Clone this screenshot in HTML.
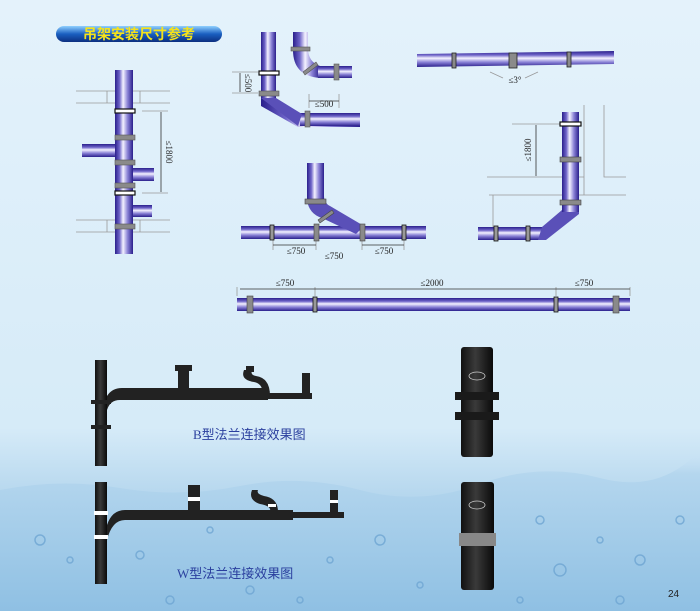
<!DOCTYPE html>
<html><head><meta charset="utf-8"><style>
html,body{margin:0;padding:0;width:700px;height:611px;overflow:hidden;background:#e2f1fb}
svg{display:block}
text{font-family:"Liberation Serif",serif;}
</style></head><body>
<svg width="700" height="611" viewBox="0 0 700 611" xmlns="http://www.w3.org/2000/svg">
<defs>
<linearGradient id="bg" x1="0" y1="0" x2="0" y2="1">
<stop offset="0" stop-color="#e4f2fb"/><stop offset="0.7" stop-color="#d6ebf8"/><stop offset="0.8" stop-color="#b9d9ef"/><stop offset="1" stop-color="#7fb5dc"/></linearGradient>
<linearGradient id="ph" x1="0" y1="0" x2="0" y2="1">
<stop offset="0" stop-color="#2a1f8c"/><stop offset="0.25" stop-color="#6e64c8"/><stop offset="0.45" stop-color="#f4f2ff"/><stop offset="0.7" stop-color="#8a82d6"/><stop offset="1" stop-color="#2a1f8c"/></linearGradient>
<linearGradient id="pv" x1="0" y1="0" x2="1" y2="0">
<stop offset="0" stop-color="#2a1f8c"/><stop offset="0.25" stop-color="#6e64c8"/><stop offset="0.45" stop-color="#f4f2ff"/><stop offset="0.7" stop-color="#8a82d6"/><stop offset="1" stop-color="#2a1f8c"/></linearGradient>
<linearGradient id="pill" x1="0" y1="0" x2="0" y2="1">
<stop offset="0" stop-color="#8fd0ff"/><stop offset="0.5" stop-color="#1a5fc0"/><stop offset="1" stop-color="#0c2f80"/></linearGradient>
<linearGradient id="blk" x1="0" y1="0" x2="1" y2="0">
<stop offset="0" stop-color="#111"/><stop offset="0.45" stop-color="#3a3a3a"/><stop offset="1" stop-color="#0a0a0a"/></linearGradient>
<linearGradient id="water" x1="0" y1="0" x2="0" y2="1">
<stop offset="0" stop-color="#cfe6f6" stop-opacity="0"/><stop offset="0.15" stop-color="#b4d6ee"/><stop offset="1" stop-color="#8fc0e3"/></linearGradient>
</defs>
<rect width="700" height="611" fill="url(#bg)"/>
<path d="M0 490 Q60 478 120 488 T240 486 T360 490 T480 484 T600 478 T700 450 V611 H0Z" fill="url(#water)"/>
<g fill="none" stroke="#6fa6d3" stroke-width="1.5" opacity="0.8">
<circle cx="40" cy="540" r="5"/><circle cx="70" cy="560" r="3"/><circle cx="140" cy="555" r="4"/><circle cx="210" cy="530" r="3"/><circle cx="250" cy="590" r="4"/><circle cx="330" cy="560" r="3"/><circle cx="380" cy="540" r="5"/><circle cx="420" cy="585" r="3"/><circle cx="540" cy="520" r="4"/><circle cx="560" cy="570" r="6"/><circle cx="600" cy="540" r="3"/><circle cx="640" cy="560" r="5"/><circle cx="680" cy="520" r="4"/><circle cx="520" cy="600" r="3"/><circle cx="170" cy="600" r="4"/><circle cx="300" cy="600" r="3"/><circle cx="620" cy="600" r="4"/>
</g>

<rect x="56" y="26" width="166" height="16" rx="8" fill="url(#pill)"/>
<text x="139" y="39" text-anchor="middle" font-size="14" font-weight="bold" fill="#f5e21a" style="font-family:'Liberation Sans','Noto Sans CJK SC',sans-serif">吊架安装尺寸参考</text>

<g stroke="#999" stroke-width="0.8" fill="none">
<path d="M76 91H170M76 103H170M107 91V103M140 91V103M76 220H170M76 232H170M107 220V232M140 220V232"/>
<path d="M142 111H168M142 193H168"/>
<path d="M584 105V195M604 105V177H626M487 177H584M489 195H626M493 195V228M512 124H560"/>
<path d="M232 72H258M232 93H258M309 94V108M339 94V108M273 240V250M316 240V250M362 240V250M404 240V250M237 287V296M315 287V296M556 287V296M630 287V296"/>
<path d="M490 72L503 78M538 72L525 78"/>
</g>
<g stroke="#333" stroke-width="0.8">
<path d="M161 112V192M240 73V92M309 101H339M273 245H316M362 245H404M536 125V176M240 289H315M315 289H556M556 289H630"/>
</g>

<rect x="82" y="144" width="40" height="13" fill="url(#ph)"/>
<rect x="128" y="168" width="26" height="13" fill="url(#ph)"/>
<rect x="128" y="205" width="24" height="12" fill="url(#ph)"/>
<rect x="115" y="70" width="18" height="184" fill="url(#pv)"/>
<g fill="#8a8a8a" stroke="#555" stroke-width="0.6">
<rect x="115" y="135" width="20" height="5"/><rect x="115" y="160" width="20" height="5"/><rect x="115" y="183" width="20" height="5"/><rect x="115" y="224" width="20" height="5"/></g>
<g fill="#fff" stroke="#111" stroke-width="1.2"><rect x="115" y="109" width="20" height="4"/><rect x="115" y="191" width="20" height="4"/></g>

<path d="M261 32H276V100L302 114H360V127H298L261 106Z" fill="url(#pv)"/>
<rect x="300" y="113" width="60" height="13" fill="url(#ph)"/>
<path d="M261 98L276 98L302 114L298 126Z" fill="#5a50b8"/>
<rect x="261" y="32" width="15" height="66" fill="url(#pv)"/>
<path d="M293 32H308V48Q308 62 320 66V78Q293 76 293 50Z" fill="url(#pv)"/>
<rect x="318" y="66" width="34" height="12" fill="url(#ph)"/>
<g fill="#8a8a8a" stroke="#555" stroke-width="0.6">
<rect x="259" y="91" width="20" height="5"/><rect x="305" y="111" width="5" height="16"/><rect x="291" y="47" width="19" height="4"/><rect x="334" y="64" width="5" height="16"/><path d="M303 72L316 62L318 65L305 75Z"/></g>
<rect x="259" y="71" width="20" height="4" fill="#fff" stroke="#111" stroke-width="1.2"/>

<path d="M417 54L614 51V64L417 67Z" fill="url(#ph)"/>
<g fill="#8a8a8a" stroke="#222" stroke-width="0.8"><rect x="452" y="53" width="4" height="15"/><rect x="509" y="53" width="8" height="15"/><rect x="567" y="52" width="4" height="15"/></g>

<rect x="478" y="227" width="64" height="13" fill="url(#ph)"/>
<path d="M542 227L562 210H579V214L546 240H538Z" fill="#5a50b8"/>
<rect x="562" y="112" width="17" height="100" fill="url(#pv)"/>
<g fill="#8a8a8a" stroke="#444" stroke-width="0.6"><rect x="560" y="157" width="21" height="5"/><rect x="560" y="200" width="21" height="5"/></g>
<rect x="560" y="122" width="21" height="4" fill="#fff" stroke="#111" stroke-width="1.2"/>
<g fill="#999" stroke="#111" stroke-width="0.8"><rect x="494" y="226" width="4" height="15"/><rect x="526" y="226" width="4" height="15"/></g>

<rect x="241" y="226" width="185" height="13" fill="url(#ph)"/>
<path d="M307 200Q309 214 322 218L356 234L364 226L330 206Q324 203 324 196Z" fill="#5a50b8"/>
<rect x="307" y="163" width="17" height="40" fill="url(#pv)"/>
<g fill="#8a8a8a" stroke="#444" stroke-width="0.6"><rect x="305" y="199" width="21" height="5"/><rect x="314" y="224" width="5" height="17"/><rect x="360" y="224" width="5" height="17"/><path d="M318 220L332 210L334 213L320 223Z"/></g>
<g fill="#999" stroke="#111" stroke-width="0.8"><rect x="270" y="225" width="4" height="15"/><rect x="402" y="225" width="4" height="15"/></g>

<rect x="237" y="298" width="393" height="13" fill="url(#ph)"/>
<g fill="#8a8a8a" stroke="#444" stroke-width="0.6"><rect x="247" y="296" width="6" height="17"/><rect x="613" y="296" width="6" height="17"/></g>
<g fill="#999" stroke="#111" stroke-width="0.8"><rect x="313" y="297" width="4" height="15"/><rect x="554" y="297" width="4" height="15"/></g>

<g font-size="9" fill="#222">
<text x="166" y="152" transform="rotate(90 166 152)" text-anchor="middle">≤1800</text>
<text x="245" y="83" transform="rotate(90 245 83)" text-anchor="middle">≤500</text>
<text x="324" y="107" text-anchor="middle">≤500</text>
<text x="515" y="83" text-anchor="middle">≤3°</text>
<text x="531" y="150" transform="rotate(-90 531 150)" text-anchor="middle">≤1800</text>
<text x="296" y="254" text-anchor="middle">≤750</text>
<text x="334" y="259" text-anchor="middle">≤750</text>
<text x="384" y="254" text-anchor="middle">≤750</text>
<text x="285" y="286" text-anchor="middle">≤750</text>
<text x="432" y="286" text-anchor="middle">≤2000</text>
<text x="584" y="286" text-anchor="middle">≤750</text>
</g>

<g fill="#222">
<rect x="95" y="360" width="12" height="106" fill="url(#blk)"/>
<path d="M107 396Q112 388 122 388H268V400H120Q110 400 107 410Z"/>
<rect x="178" y="367" width="11" height="26"/><rect x="175" y="365" width="17" height="6"/>
<path d="M244 370Q240 380 254 382Q264 384 262 396H270Q270 378 256 376Q250 375 252 370Z"/>
<rect x="246" y="366" width="8" height="6"/>
<rect x="302" y="373" width="8" height="20"/><rect x="248" y="393" width="64" height="6"/>
<rect x="91" y="400" width="20" height="4"/><rect x="91" y="425" width="20" height="4"/>
<rect x="95" y="482" width="12" height="102" fill="url(#blk)"/>
<path d="M107 525Q112 510 125 510H293V520H125Q112 520 107 540Z"/>
<rect x="188" y="485" width="12" height="28"/>
<path d="M252 490Q248 500 260 504Q272 506 270 512H278Q278 498 264 496Q256 494 258 490Z"/>
<rect x="330" y="490" width="8" height="24"/><rect x="270" y="512" width="74" height="6"/>
</g>
<g fill="#fff"><rect x="94" y="511" width="14" height="4"/><rect x="94" y="535" width="14" height="4"/><rect x="188" y="497" width="12" height="4"/><rect x="268" y="504" width="8" height="3"/><rect x="330" y="500" width="8" height="3"/></g>

<rect x="461" y="347" width="32" height="110" rx="3" fill="url(#blk)"/>
<rect x="455" y="392" width="44" height="8" fill="#1a1a1a"/><rect x="455" y="412" width="44" height="8" fill="#1a1a1a"/>
<ellipse cx="477" cy="376" rx="8" ry="4" fill="none" stroke="#ccc" stroke-width="0.8"/>
<rect x="461" y="482" width="33" height="108" rx="3" fill="url(#blk)"/>
<rect x="459" y="533" width="37" height="13" fill="#888"/>
<ellipse cx="477" cy="505" rx="8" ry="4" fill="none" stroke="#ccc" stroke-width="0.8"/>

<g font-size="13" fill="#2a3f9e" style="font-family:'Liberation Sans','Noto Sans CJK SC',sans-serif">
<text x="193" y="439">B型法兰连接效果图</text>
<text x="177" y="578">W型法兰连接效果图</text>
</g>
<text x="668" y="597" font-size="10" fill="#222" style="font-family:'Liberation Sans',sans-serif">24</text>
</svg>
</body></html>
